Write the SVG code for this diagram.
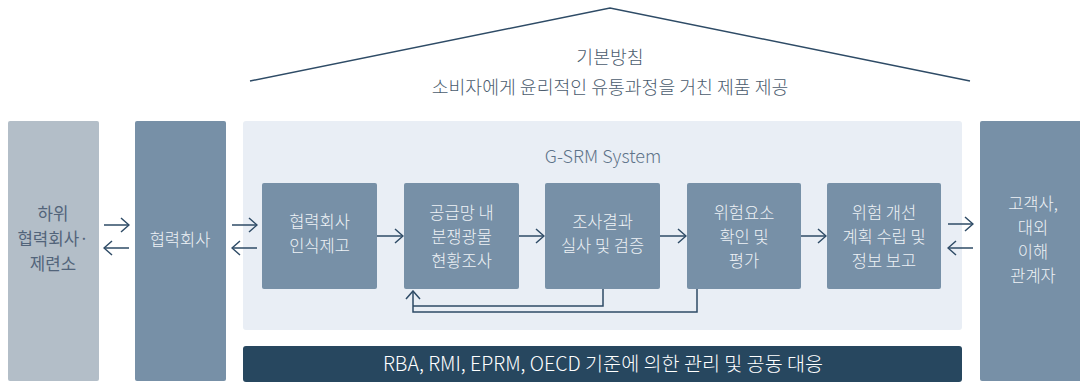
<svg xmlns="http://www.w3.org/2000/svg" width="1080" height="383" viewBox="0 0 1080 383">
<defs>
<style>
text{font-family:"Noto Sans CJK KR","Noto Sans",sans-serif;text-anchor:middle;font-weight:300;}
.wt{fill:#eef2f6;font-size:16.5px;}
.dk{fill:#52647a;font-size:16.8px;font-weight:400;}
.hd{fill:#4b5c6e;font-size:18.3px;}
.proc{fill:#7790a7;}
.ln{fill:none;stroke:#2e4b66;stroke-width:1.5;}
</style>
<marker id="ah" viewBox="0 0 10 16" refX="9" refY="8" markerWidth="10" markerHeight="16" markerUnits="userSpaceOnUse" orient="auto">
<path d="M1,1 L9,8 L1,15" fill="none" stroke="#2e4b66" stroke-width="1.5"/>
</marker>
</defs>
<rect width="1080" height="383" fill="#ffffff"/>

<g id="roof">
<polyline class="ln" points="250,81 610,8 970,81"/>
<text class="hd" x="610" y="64">기본방침</text>
<text class="hd" x="610" y="94">소비자에게 윤리적인 유통과정을 거친 제품 제공</text>
</g>

<g id="sub-supplier">
<rect x="8" y="121" width="91" height="260" rx="2" fill="#b3bec8"/>
<text class="dk" x="53" y="220">하위</text>
<text class="dk" x="53" y="245">협력회사·</text>
<text class="dk" x="53" y="270">제련소</text>
</g>

<g id="supplier">
<rect x="135" y="121" width="91" height="260" rx="2" fill="#7790a7"/>
<text class="wt" x="180" y="246">협력회사</text>
</g>

<g id="gsrm-panel">
<rect x="243" y="121" width="719" height="209" rx="3" fill="#e9eef5"/>
<text x="603" y="163" fill="#5e7389" font-size="18">G-SRM System</text>
</g>

<g id="customer">
<rect x="980" y="121" width="106" height="260" rx="2" fill="#7790a7"/>
<text class="wt" x="1033" y="210">고객사,</text>
<text class="wt" x="1033" y="234">대외</text>
<text class="wt" x="1033" y="258">이해</text>
<text class="wt" x="1033" y="282">관계자</text>
</g>

<g id="step1">
<rect class="proc" x="262" y="183" width="115" height="106" rx="2"/>
<text class="wt" x="319.5" y="228">협력회사</text>
<text class="wt" x="319.5" y="252">인식제고</text>
</g>
<g id="step2">
<rect class="proc" x="404" y="183" width="115" height="106" rx="2"/>
<text class="wt" x="461.5" y="219">공급망 내</text>
<text class="wt" x="461.5" y="243">분쟁광물</text>
<text class="wt" x="461.5" y="267">현황조사</text>
</g>
<g id="step3">
<rect class="proc" x="545" y="183" width="115" height="106" rx="2"/>
<text class="wt" x="602.5" y="228">조사결과</text>
<text class="wt" x="602.5" y="252">실사 및 검증</text>
</g>
<g id="step4">
<rect class="proc" x="687" y="183" width="114" height="106" rx="2"/>
<text class="wt" x="744" y="219">위험요소</text>
<text class="wt" x="744" y="243">확인 및</text>
<text class="wt" x="744" y="267">평가</text>
</g>
<g id="step5">
<rect class="proc" x="827" y="183" width="114" height="106" rx="2"/>
<text class="wt" x="884" y="219">위험 개선</text>
<text class="wt" x="884" y="243">계획 수립 및</text>
<text class="wt" x="884" y="267">정보 보고</text>
</g>

<g id="standards-bar">
<rect x="243" y="346" width="719" height="36" rx="3" fill="#27475f"/>
<text x="603" y="371" fill="#ffffff" font-size="19.6">RBA, RMI, EPRM, OECD 기준에 의한 관리 및 공동 대응</text>
</g>

<g id="connectors">
<line class="ln" x1="104" y1="225" x2="129" y2="225" marker-end="url(#ah)"/>
<line class="ln" x1="129" y1="248" x2="104" y2="248" marker-end="url(#ah)"/>
<line class="ln" x1="232" y1="225" x2="257" y2="225" marker-end="url(#ah)"/>
<line class="ln" x1="257" y1="248" x2="232" y2="248" marker-end="url(#ah)"/>
<line class="ln" x1="948" y1="224" x2="973" y2="224" marker-end="url(#ah)"/>
<line class="ln" x1="973" y1="248" x2="948" y2="248" marker-end="url(#ah)"/>
<line class="ln" x1="377" y1="236" x2="403" y2="236" marker-end="url(#ah)"/>
<line class="ln" x1="519" y1="236" x2="544" y2="236" marker-end="url(#ah)"/>
<line class="ln" x1="660" y1="236" x2="686" y2="236" marker-end="url(#ah)"/>
<line class="ln" x1="801" y1="236" x2="826" y2="236" marker-end="url(#ah)"/>
<polyline class="ln" points="603,289 603,306 413,306"/>
<polyline class="ln" points="697,289 697,312 413,312 413,291" marker-end="url(#ah)"/>
</g>
</svg>
